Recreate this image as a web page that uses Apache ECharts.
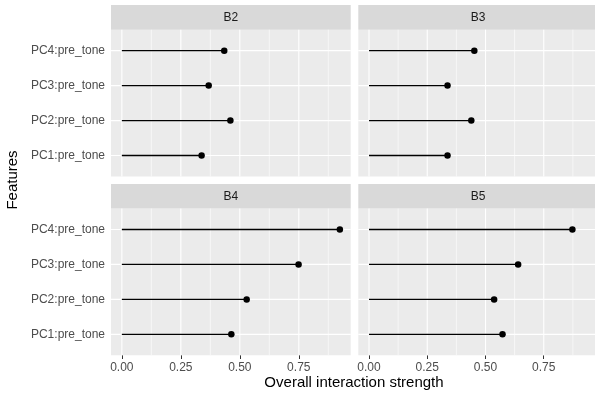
<!DOCTYPE html>
<html>
<head>
<meta charset="utf-8">
<script src="https://cdn.jsdelivr.net/npm/echarts@6/dist/echarts.min.js"></script>
<style>
  html, body { margin: 0; padding: 0; background: #fff; }
  #chart { width: 595px; height: 396px; }
</style>
</head>
<body>
<div id="chart"></div>
<script>
// facet panels and features
const panels = ['B2', 'B3', 'B4', 'B5']
const features = ['PC1:pre_tone', 'PC2:pre_tone', 'PC3:pre_tone', 'PC4:pre_tone']

// overall interaction strength per panel, in feature order
const b2 = [0.338, 0.460, 0.368, 0.434]
const b3 = [0.337, 0.439, 0.337, 0.452]
const b4 = [0.464, 0.529, 0.749, 0.924]
const b5 = [0.573, 0.537, 0.640, 0.873]
const panelValues = [b2, b3, b4, b5]

// x scale ticks
const xTicks = [0, 0.25, 0.5, 0.75]
const xTickLabels = ['0.00', '0.25', '0.50', '0.75']
const xMinorTicks = [0.125, 0.375, 0.625, 0.875]
const xMin = -0.046
const xMax = 0.970

const FONT = 'Liberation Sans, Arial, sans-serif'

// panel boxes: [left, top]
const panelW = 239.7
const panelH = 146.8
const stripH = 24.6
const boxes = [
  [111, 29.7],
  [358.3, 29.7],
  [111, 208.5],
  [358.3, 208.5]
]

const grids = []
const xAxes = []
const yAxes = []
const series = []
const graphics = []
const yPos = features.map((f, i) => i + 1)

// white grid lines drawn under the marks: item = [value, lineWidth]
const vGridItem = (params, api) => {
  const cs = params.coordSys
  const x = api.coord([api.value(0), 1])[0]
  return {
    type: 'line',
    shape: { x1: x, y1: cs.y, x2: x, y2: cs.y + cs.height },
    style: { stroke: '#FFFFFF', lineWidth: api.value(1) }
  }
}
const hGridItem = (params, api) => {
  const cs = params.coordSys
  const y = api.coord([0, api.value(0)])[1]
  return {
    type: 'line',
    shape: { x1: cs.x, y1: y, x2: cs.x + cs.width, y2: y },
    style: { stroke: '#FFFFFF', lineWidth: api.value(1) }
  }
}

panels.forEach((name, k) => {
  const [left, top] = boxes[k]
  const isBottom = k >= 2
  const isLeft = k % 2 === 0

  grids.push({
    left: left, top: top, width: panelW, height: panelH,
    show: true, backgroundColor: '#EBEBEB', borderWidth: 0
  })

  xAxes.push({
    type: 'value', gridIndex: k, min: xMin, max: xMax,
    axisLine: { show: false },
    splitLine: { show: false },
    axisTick: {
      show: isBottom, length: 3.7, customValues: xTicks,
      lineStyle: { color: '#333333', width: 1 }
    },
    axisLabel: {
      show: isBottom, customValues: xTicks, margin: 6,
      color: '#4D4D4D', fontSize: 12, fontFamily: FONT,
      formatter: v => xTickLabels[xTicks.indexOf(v)] ?? ''
    }
  })

  yAxes.push({
    type: 'value', gridIndex: k, min: 0.4, max: 4.6,
    axisLine: { show: false },
    splitLine: { show: false },
    axisTick: {
      show: isLeft, length: 3.7, customValues: yPos,
      lineStyle: { color: '#333333', width: 1 }
    },
    axisLabel: {
      show: isLeft, customValues: yPos, margin: 6,
      color: '#4D4D4D', fontSize: 12, fontFamily: FONT,
      formatter: v => features[Math.round(v) - 1] ?? ''
    }
  })

  series.push({
    type: 'custom', xAxisIndex: k, yAxisIndex: k, z: 1, silent: true,
    data: [
      ...xMinorTicks.map(v => [v, 0.6]),
      ...xTicks.map(v => [v, 1.1])
    ],
    renderItem: vGridItem
  })
  series.push({
    type: 'custom', xAxisIndex: k, yAxisIndex: k, z: 1, silent: true,
    data: yPos.map(v => [v, 1.1]),
    renderItem: hGridItem
  })

  const data = panelValues[k].map((v, i) => [v, yPos[i]])

  // lollipop stems
  series.push({
    type: 'custom', xAxisIndex: k, yAxisIndex: k, z: 3, silent: true,
    encode: { x: 0, y: 1 },
    data: data,
    renderItem: (params, api) => {
      const p0 = api.coord([0, api.value(1)])
      const p1 = api.coord([api.value(0), api.value(1)])
      return {
        type: 'line',
        shape: { x1: p0[0], y1: p0[1], x2: p1[0], y2: p1[1] },
        style: { stroke: '#000000', lineWidth: 1.4 }
      }
    }
  })

  // lollipop heads
  series.push({
    type: 'scatter', xAxisIndex: k, yAxisIndex: k, z: 4, silent: true,
    symbol: 'circle', symbolSize: 6.5,
    itemStyle: { color: '#000000', opacity: 1 },
    data: data
  })

  // facet strip
  graphics.push({
    type: 'rect', left: left, top: top - stripH, silent: true,
    shape: { width: panelW, height: stripH },
    style: { fill: '#D9D9D9' }
  })
  graphics.push({
    type: 'text', silent: true,
    x: left + panelW / 2, y: top - stripH / 2,
    style: {
      text: name, fill: '#1A1A1A', fontSize: 12, fontFamily: FONT,
      align: 'center', verticalAlign: 'middle'
    }
  })
})

// axis titles
graphics.push({
  type: 'text', silent: true, x: 354, y: 383,
  style: {
    text: 'Overall interaction strength', fill: '#000000', fontSize: 15,
    fontFamily: FONT, align: 'center', verticalAlign: 'middle'
  }
})
graphics.push({
  type: 'text', silent: true, x: 13, y: 180, rotation: Math.PI / 2,
  style: {
    text: 'Features', fill: '#000000', fontSize: 15,
    fontFamily: FONT, align: 'center', verticalAlign: 'middle'
  }
})

const chart = echarts.init(document.getElementById('chart'), null, { renderer: 'canvas' })
chart.setOption({
  animation: false,
  backgroundColor: '#FFFFFF',
  grid: grids,
  xAxis: xAxes,
  yAxis: yAxes,
  series: series,
  graphic: graphics
})
</script>
</body>
</html>
